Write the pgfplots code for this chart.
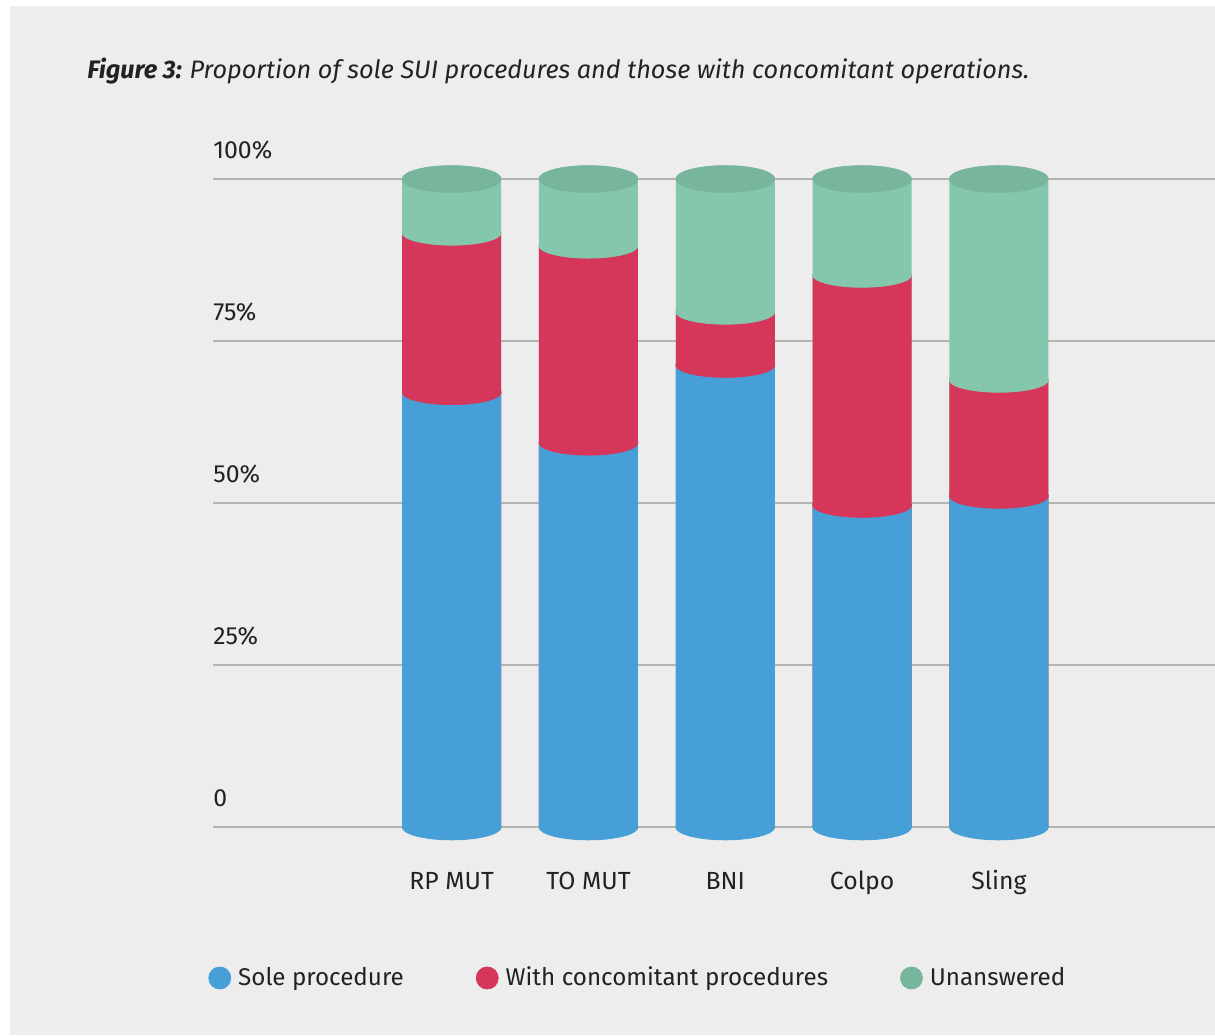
\documentclass[border=0pt]{standalone}
\usepackage{fontspec}
\setmainfont{Fira Sans}
\usepackage{pgfplots}
\usepackage{pgfplotstable}
\pgfplotsset{compat=1.18}

\definecolor{bg}{HTML}{EDEDED}
\definecolor{cblue}{HTML}{479FD8}
\definecolor{cred}{HTML}{D5365A}
\definecolor{cgreen}{HTML}{84C7AC}
\definecolor{ctop}{HTML}{77B59C}
\definecolor{cgrid}{HTML}{B4B4B0}
\definecolor{ctext}{HTML}{222222}

% cumulative heights of each segment (percent)
\pgfplotstableread{
x base sole conc total
0 0 67.1 91.7 100
1 0 59.3 89.7 100
2 0 71.3 79.5 100
3 0 49.7 85.2 100
4 0 51.1 69.0 100
}\procdata

\newcommand{\lbl}{\fontsize{12.4}{14}\selectfont}

\begin{document}
\begin{tikzpicture}
\path[use as bounding box] (-106.5pt,-104pt) rectangle (501pt,413.5pt);
\fill[white] (-106.5pt,-104pt) rectangle (501pt,413.5pt);
\fill[bg] (-101.5pt,-104pt) rectangle (501pt,410.5pt);
\node[anchor=base west, text=ctext, inner sep=0pt, font=\fontsize{12.65}{15}\selectfont]
  at (-63pt,374pt) {\bfseries\itshape Figure 3: \mdseries Proportion of sole SUI procedures and those with concomitant operations.};

\begin{axis}[
  scale only axis,
  width=501pt, height=324pt,
  xmin=-1.745, xmax=5.58,
  ymin=0, ymax=100,
  clip=false,
  axis line style={draw=none},
  tick style={draw=none},
  ymajorgrids,
  grid style={cgrid, line width=0.7pt},
  ytick={0,25,50,75,100},
  yticklabels={0,25\%,50\%,75\%,100\%},
  yticklabel style={anchor=base west, inner sep=0pt, xshift=0pt, yshift=10.5pt, font=\lbl, text=ctext},
  xtick={0,1,2,3,4},
  xticklabels={RP MUT,TO MUT,BNI,Colpo,Sling},
  xticklabel style={anchor=base, inner sep=0pt, yshift=-31pt, font=\lbl, text=ctext},
  /pgf/number format/assume math mode=true,
  legend columns=3,
  legend style={draw=none, fill=none, at={(-0.005,-0.233)}, anchor=west,
    font=\fontsize{12.1}{14}\selectfont, text=ctext, inner sep=0pt,
    /tikz/every even column/.append style={column sep=34pt},
    /tikz/every odd column/.append style={column sep=1.5pt}},
  legend image code/.code={\fill[#1] (5.5pt,0pt) circle (5.5pt);},
]
\addplot[ybar, bar width=49.5pt, bar shift=0pt, fill=cgreen, draw=none, forget plot] table[x=x, y=total] {\procdata};
\addplot[ybar, bar width=49.5pt, bar shift=0pt, fill=cred, draw=none, forget plot] table[x=x, y=conc] {\procdata};
\addplot[ybar, bar width=49.5pt, bar shift=0pt, fill=cblue, draw=none, forget plot] table[x=x, y=sole] {\procdata};
% elliptical caps giving the cylinder look
\addplot[only marks, color=cblue, mark=*, mark size=24.75pt, mark options={yscale=0.26, fill=cblue, draw=cblue}, forget plot] table[x=x, y=base] {\procdata};
\addplot[only marks, color=cred, mark=*, mark size=24.75pt, mark options={yscale=0.25, fill=cred, draw=cred}, forget plot] table[x=x, y=sole] {\procdata};
\addplot[only marks, color=cgreen, mark=*, mark size=24.75pt, mark options={yscale=0.25, fill=cgreen, draw=cgreen}, forget plot] table[x=x, y=conc] {\procdata};
\addplot[only marks, color=ctop, mark=*, mark size=24.75pt, mark options={yscale=0.27, fill=ctop, draw=ctop}, forget plot] table[x=x, y=total] {\procdata};
\addlegendimage{color=cblue, fill=cblue}
\addlegendentry{Sole procedure}
\addlegendimage{color=cred, fill=cred}
\addlegendentry{With concomitant procedures}
\addlegendimage{color=ctop, fill=ctop}
\addlegendentry{Unanswered}
\end{axis}
\end{tikzpicture}
\end{document}
